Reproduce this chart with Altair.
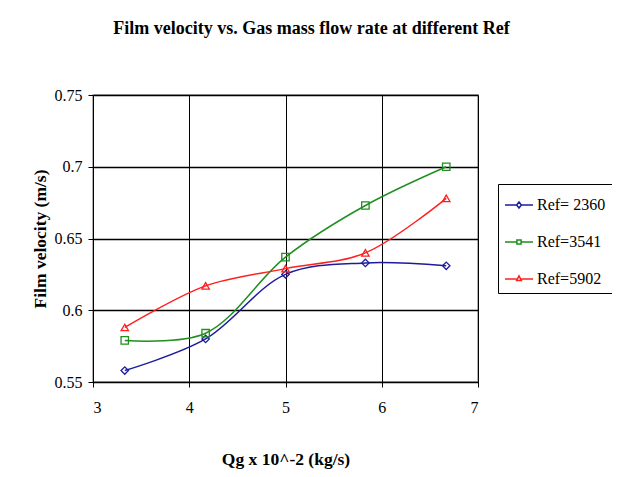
import altair as alt
import pandas as pd

qg = [3.33, 4.17, 5.0, 5.83, 6.67]
ref_names = ["Ref= 2360", "Ref=3541", "Ref=5902"]
ref2360 = [0.558, 0.580, 0.625, 0.633, 0.631]
ref3541 = [0.579, 0.584, 0.637, 0.673, 0.700]
ref5902 = [0.588, 0.617, 0.629, 0.640, 0.678]
colors = ["#1c1c9c", "#1f8f1f", "#ff1f1f"]
marker_shapes = ["diamond", "square", "triangle-up"]

rows = []
for name, vals in zip(ref_names, [ref2360, ref3541, ref5902]):
    for q, v in zip(qg, vals):
        rows.append({"Qg": q, "v": v, "Ref": name})
df = pd.DataFrame(rows)

# legend glyphs: a short line with the marker in the middle
legend_paths = [
    "M-1,0 L-0.17,0 M0.17,0 L1,0 M0,-0.22 L0.17,0 L0,0.22 L-0.17,0 Z",
    "M-1,0 L-0.15,0 M0.15,0 L1,0 M-0.15,-0.15 L0.15,-0.15 L0.15,0.15 L-0.15,0.15 Z",
    "M-1,0 L-0.17,0 M0.17,0 L1,0 M0,-0.22 L0.17,0.1 L-0.17,0.1 Z",
]

serif = "Liberation Serif"

x_enc = alt.X(
    "Qg:Q",
    scale=alt.Scale(domain=[3, 7], nice=False, zero=False),
    axis=alt.Axis(
        values=[3, 4, 5, 6, 7], title="Qg x 10^-2 (kg/s)", grid=True,
        gridColor="black", gridWidth=1, domainColor="black", tickColor="black",
        tickSize=5, labelPadding=12, titlePadding=35, labelFontSize=16,
        titleFontSize=17.5,
    ),
)
y_enc = alt.Y(
    "v:Q",
    scale=alt.Scale(domain=[0.55, 0.75], nice=False, zero=False),
    axis=alt.Axis(
        values=[0.55, 0.6, 0.65, 0.7, 0.75], format=".2~f", title="Film velocity (m/s)",
        grid=True, gridColor="black", gridWidth=1.5, domainColor="black",
        tickColor="black", tickSize=5, labelPadding=6, titlePadding=5,
        labelFontSize=16, titleFontSize=17.5,
    ),
)

base = alt.Chart(df)
color_sc = alt.Scale(domain=ref_names, range=colors)

lines = base.mark_line(interpolate="catmull-rom", strokeWidth=1.5).encode(
    x=x_enc, y=y_enc, color=alt.Color("Ref:N", scale=color_sc, legend=None)
)
pts = base.mark_point(filled=False, size=55, strokeWidth=1.3, opacity=1).encode(
    x=x_enc, y=y_enc,
    color=alt.Color("Ref:N", scale=color_sc, legend=None),
    shape=alt.Shape("Ref:N", scale=alt.Scale(domain=ref_names, range=marker_shapes), legend=None),
)
leg = base.mark_point(filled=False, size=784, strokeWidth=1.5).encode(
    x=x_enc, y=y_enc,
    opacity=alt.value(0),
    color=alt.Color("Ref:N", scale=color_sc, legend=alt.Legend(title=None)),
    shape=alt.Shape(
        "Ref:N", scale=alt.Scale(domain=ref_names, range=legend_paths),
        legend=alt.Legend(
            title=None, orient="none", legendX=405, legendY=89,
            symbolSize=784, symbolStrokeWidth=1.5, symbolOpacity=1,
            labelFont=serif, labelFontSize=16, labelColor="black",
            strokeColor="black", padding=6, rowPadding=14, labelOffset=3,
        ),
    ),
)

chart = (
    alt.layer(lines, pts, leg)
    .resolve_scale(color="independent", shape="independent")
    .properties(
        width=385, height=287,
        autosize=alt.AutoSizeParams(type="none"),
        padding={"left": 85, "top": 87, "right": 134, "bottom": 90},
        title=alt.Title(
            "Film velocity vs. Gas mass flow rate at different Ref",
            font=serif, fontSize=18, fontWeight="bold", anchor="middle",
            frame="group", offset=49, dx=26, color="black",
        ),
    )
    .configure_axis(labelFont=serif, titleFont=serif, titleFontWeight="bold",
                    labelColor="black", titleColor="black")
    .configure_view(stroke="#999999", strokeWidth=1.5)
)

chart.save("out.html", embed_options={"renderer": "svg", "actions": False})
